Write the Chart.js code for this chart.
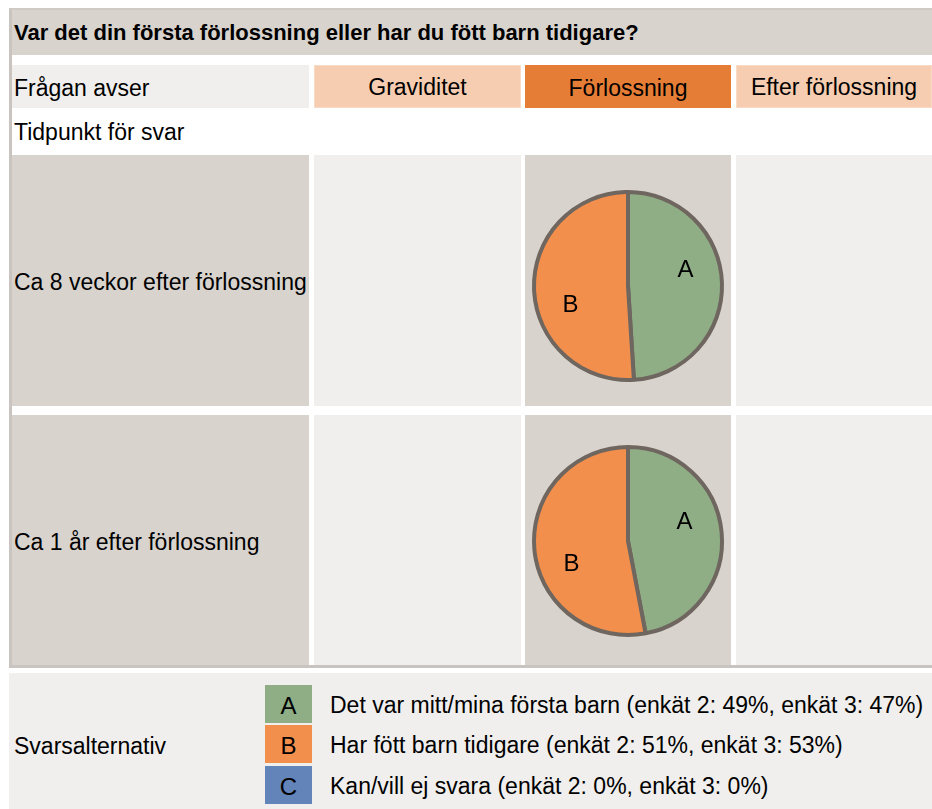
<!DOCTYPE html>
<html lang="sv">
<head>
<meta charset="utf-8">
<title>Var det din första förlossning</title>
<script src="https://cdn.jsdelivr.net/npm/chart.js@4.4.0/dist/chart.umd.min.js"></script>
<style>
  body {
    margin: 0; width: 932px; height: 809px; position: relative; overflow: hidden; background: #fff;
    font-family: "Liberation Sans", Arial, sans-serif;
    font-size: 23px; color: #000;
  }
  .box { position: absolute; display: flex; align-items: center; box-sizing: border-box; white-space: nowrap; padding-top: 3px; }
  .pie { position: absolute; }
</style>
</head>
<body>
<script>
// frågan, perioder och tidpunkter
const title = 'Var det din första förlossning eller har du fött barn tidigare?';
const periods = ['Graviditet', 'Förlossning', 'Efter förlossning'];
const activePeriod = 1;
const timepoints = ['Ca 8 veckor efter förlossning', 'Ca 1 år efter förlossning'];

// svarsalternativ och andelar (%) per enkät
const letters = ['A', 'B', 'C'];
const answers = ['Det var mitt/mina första barn', 'Har fött barn tidigare', 'Kan/vill ej svara'];
const enkat2 = [49, 51, 0];
const enkat3 = [47, 53, 0];
const colors = ['#8fae85', '#f38f4c', '#6284b8'];

// layout
const colX = [[12, 309], [314, 521], [525, 731], [736, 932]];
const rowY = [[155, 406], [415, 665]];

function box(x, y, w, h, bg, text, extra) {
  const d = document.createElement('div');
  d.className = 'box';
  Object.assign(d.style, { left: x + 'px', top: y + 'px', width: w + 'px', height: h + 'px', background: bg }, extra || {});
  if (text !== undefined) d.textContent = text;
  document.body.appendChild(d);
  return d;
}

// ram
box(9, 8, 930, 660, 'transparent', undefined, { borderLeft: '3px solid #c9c4bf', borderTop: '2px solid #cfcac5', borderBottom: '3px solid #c9c4bf' });

// rubrik
box(12, 10, 920, 45, '#d9d3ce', title, { fontWeight: 'bold', fontSize: '22px', paddingLeft: '2px', paddingTop: '1px' });

// frågan avser
box(colX[0][0], 65, colX[0][1] - colX[0][0], 43, '#f0efed', 'Frågan avser', { paddingLeft: '2px' });
periods.forEach((p, i) => {
  const [x0, x1] = colX[i + 1];
  const active = i === activePeriod;
  box(x0, 65, x1 - x0, 43, active ? '#e67d36' : '#f6cdb0', p,
      { justifyContent: 'center', border: active ? 'none' : '1px solid #f9dac4', paddingTop: active ? '3px' : '2px' });
});
box(12, 110, 300, 42, 'transparent', 'Tidpunkt för svar', { paddingLeft: '2px' });

// svarsrader
timepoints.forEach((t, r) => {
  const [y0, y1] = rowY[r];
  box(colX[0][0], y0, colX[0][1] - colX[0][0], y1 - y0, '#d9d3ce', t, { paddingLeft: '2px', paddingTop: '4px' });
  periods.forEach((p, i) => {
    const [x0, x1] = colX[i + 1];
    box(x0, y0, x1 - x0, y1 - y0, i === activePeriod ? '#d9d3ce' : '#f0efed');
  });
});

// svarsalternativ
box(9, 673, 923, 136, '#f0efed');
box(12, 685, 250, 119, 'transparent', 'Svarsalternativ', { paddingLeft: '2px' });
const legendY = [685, 725, 766];
letters.forEach((l, i) => {
  box(265, legendY[i], 47, 38, colors[i], l, { justifyContent: 'center', fontSize: '24px' });
  box(330, legendY[i], 600, 38, 'transparent',
      `${answers[i]} (enkät 2: ${enkat2[i]}%, enkät 3: ${enkat3[i]}%)`);
});

// bokstäver i tårtbitarna
const sliceLabels = {
  id: 'sliceLabels',
  afterDatasetsDraw(chart) {
    const { ctx } = chart;
    const values = chart.data.datasets[0].data;
    ctx.save();
    ctx.font = '24px "Liberation Sans", Arial, sans-serif';
    ctx.fillStyle = '#000';
    ctx.textAlign = 'center';
    ctx.textBaseline = 'middle';
    chart.getDatasetMeta(0).data.forEach((arc, i) => {
      if (!values[i]) return;
      const { x, y, startAngle, endAngle, outerRadius } =
        arc.getProps(['x', 'y', 'startAngle', 'endAngle', 'outerRadius'], true);
      const mid = (startAngle + endAngle) / 2 - Math.PI / 12;
      const rr = outerRadius * 0.64;
      ctx.fillText(chart.data.labels[i], x + Math.cos(mid) * rr, y + Math.sin(mid) * rr + 2);
    });
    ctx.restore();
  }
};

[enkat2, enkat3].forEach((values, r) => {
  const [x0, x1] = colX[activePeriod + 1];
  const [y0, y1] = rowY[r];
  const canvas = document.createElement('canvas');
  canvas.className = 'pie';
  canvas.width = x1 - x0;
  canvas.height = y1 - y0;
  Object.assign(canvas.style, { left: x0 + 'px', top: y0 + 'px', width: (x1 - x0) + 'px', height: (y1 - y0) + 'px' });
  document.body.appendChild(canvas);

  new Chart(canvas.getContext('2d'), {
    type: 'pie',
    data: {
      labels: letters,
      datasets: [{
        data: values,
        backgroundColor: colors,
        borderColor: '#6e665f',
        borderWidth: 4,
      }]
    },
    options: {
      responsive: false,
      animation: false,
      radius: 94,
      layout: { padding: { top: r === 0 ? 11 : 2 } },
      plugins: { legend: { display: false }, tooltip: { enabled: false } }
    },
    plugins: [sliceLabels]
  });
});
</script>
</body>
</html>
